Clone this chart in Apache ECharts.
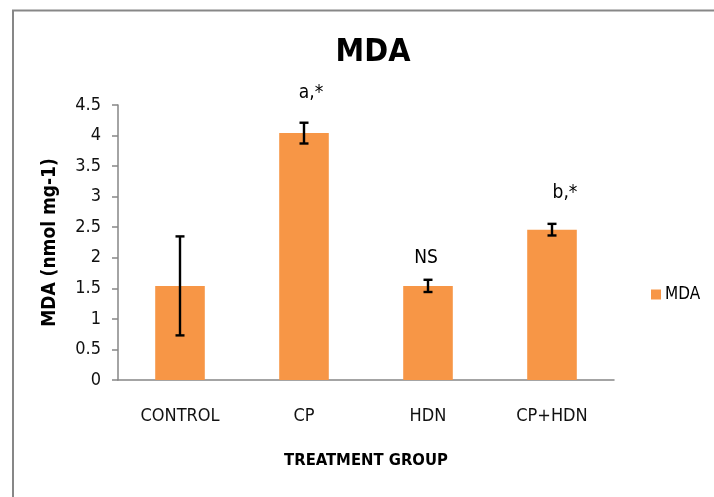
<!DOCTYPE html>
<html><head><meta charset="utf-8">
<script src="https://cdn.jsdelivr.net/npm/echarts@6/dist/echarts.min.js"></script>
<style>html,body{margin:0;padding:0;background:#fff}#c{width:714px;height:497px}</style>
</head><body><div id="c"></div>
<script>
const categories = ['CONTROL', 'CP', 'HDN', 'CP+HDN'];
const mdaMeans = [1.54, 4.04, 1.54, 2.46];
const mdaErrors = [0.81, 0.17, 0.10, 0.095];
const annotations = ['', 'a,*', 'NS', 'b,*'];
const yTicks = [0, 0.5, 1, 1.5, 2, 2.5, 3, 3.5, 4, 4.5];

const FONT = '"Liberation Sans Narrow", "DejaVu Sans Condensed", "Open Sans", sans-serif';
const annDx = [0, 7, -2, 13];
const annDy = [0, 30, 22, 31];

const chart = echarts.init(document.getElementById('c'), null, {renderer: 'canvas'});
const errData = categories.map((c, i) => [i, mdaMeans[i] - mdaErrors[i], mdaMeans[i] + mdaErrors[i], annotations[i]]);

chart.setOption({
  animation: false,
  backgroundColor: '#fff',
  graphic: [{
    type: 'rect', shape: {x: 13, y: 10.5, width: 760, height: 560},
    style: {fill: 'none', stroke: '#878787', lineWidth: 2}, silent: true, z: -1
  }],
  title: {
    text: 'MDA', left: 368, top: 32, textAlign: 'center',
    textStyle: {fontFamily: FONT, fontWeight: 'bold', fontSize: 32, color: '#000'}
  },
  legend: {
    data: ['MDA'], left: 646, top: 281, orient: 'vertical',
    itemWidth: 10, itemHeight: 10, icon: 'rect', itemGap: 6,
    textStyle: {fontFamily: FONT, fontSize: 17, color: '#000', padding: [0, 0, 0, -1]}
  },
  grid: {left: 118, right: 100, top: 105, bottom: 117, containLabel: false},
  xAxis: {
    type: 'category', data: categories, boundaryGap: true,
    name: 'TREATMENT GROUP', nameLocation: 'middle', nameGap: 72,
    nameTextStyle: {fontFamily: FONT, fontWeight: 'bold', fontSize: 16.5, color: '#000'},
    axisLine: {lineStyle: {color: '#868686', width: 1.5}},
    axisTick: {alignWithLabel: false, length: 7, lineStyle: {color: '#868686', width: 1.5}},
    axisLabel: {fontFamily: FONT, fontSize: 18, color: '#111', margin: 27}
  },
  yAxis: {
    type: 'value', min: 0, max: 4.5, interval: 0.5,
    name: 'MDA (nmol mg-1)', nameLocation: 'middle', nameGap: 58,
    nameTextStyle: {fontFamily: FONT, fontWeight: 'bold', fontSize: 19, color: '#000'},
    axisLine: {show: true, lineStyle: {color: '#868686', width: 1.5}},
    axisTick: {show: true, inside: false, length: 6, lineStyle: {color: '#868686', width: 1.5}},
    splitLine: {show: false},
    axisLabel: {fontFamily: FONT, fontSize: 18, color: '#111', margin: 17,
      formatter: v => yTicks.includes(v) ? String(v) : ''}
  },
  series: [{
    name: 'MDA', type: 'bar', data: mdaMeans, barWidth: '40%',
    itemStyle: {color: '#F79646'}, z: 2
  }, {
    name: 'err', type: 'custom', data: errData, z: 5,
    renderItem: (params, api) => {
      const i = api.value(0);
      const lo = api.coord([i, api.value(1)]);
      const hi = api.coord([i, api.value(2)]);
      const x = lo[0], cw = 4.5;
      const st = {stroke: '#000', lineWidth: 2.4};
      const children = [
        {type: 'line', shape: {x1: x, y1: lo[1], x2: x, y2: hi[1]}, style: st},
        {type: 'line', shape: {x1: x - cw, y1: lo[1], x2: x + cw, y2: lo[1]}, style: st},
        {type: 'line', shape: {x1: x - cw, y1: hi[1], x2: x + cw, y2: hi[1]}, style: st}
      ];
      const t = annotations[params.dataIndex];
      if (t) children.push({type: 'text', x: x + annDx[params.dataIndex], y: hi[1] - annDy[params.dataIndex],
        style: {text: t, fontFamily: FONT, fontSize: 19, fill: '#000', align: 'center', verticalAlign: 'middle'}});
      return {type: 'group', children};
    }
  }]
});
</script></body></html>
